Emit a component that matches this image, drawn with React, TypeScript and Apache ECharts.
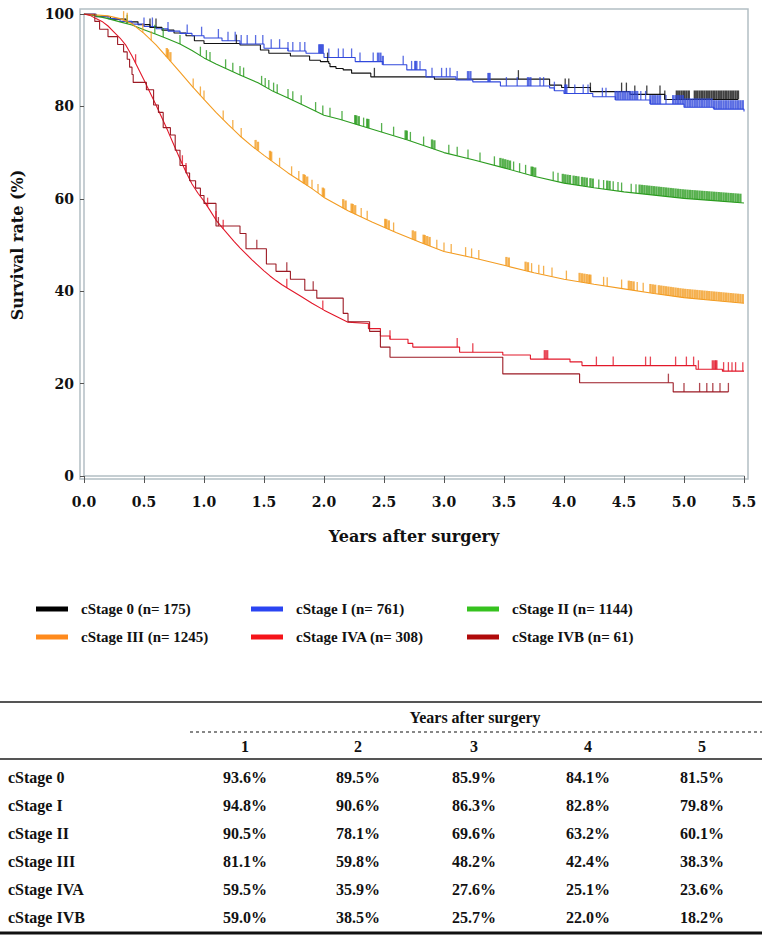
import React, { useEffect, useRef } from 'react';
import * as echarts from 'echarts';

// ---------- data ----------
const stageNames = [
  'cStage 0 (n= 175)',
  'cStage I (n= 761)',
  'cStage II (n= 1144)',
  'cStage III (n= 1245)',
  'cStage IVA (n= 308)',
  'cStage IVB (n= 61)',
];
const lineColors = ['#111111', '#3148dc', '#2c9c20', '#f39c22', '#e2182a', '#9c1a24'];
const legendColors = ['#000000', '#2a44f2', '#36c21f', '#ff8a1c', '#f5141a', '#b00a0a'];
// step rendering per stage (true = KM step, false = drawn points joined directly)
const stepMode = [true, true, false, false, false, true];

// survival curves: [years, survival %]
const curveStage0 = [
  [0, 100], [0.1, 99.4], [0.22, 98.9], [0.35, 98.3], [0.45, 97.7], [0.55, 97.1], [0.65, 96.5],
  [0.75, 95.9], [0.85, 95.3], [0.92, 94.2], [1.0, 93.6], [1.3, 93.3], [1.47, 92.2], [1.54, 91.5],
  [1.72, 90.9], [1.88, 90.0], [1.97, 89.7], [2.04, 89.3], [2.05, 88.6], [2.1, 88.2], [2.16, 87.9],
  [2.23, 87.2], [2.39, 86.4], [2.92, 85.9], [3.88, 84.6], [3.98, 84.1], [4.22, 83.2], [4.55, 82.6],
  [4.84, 81.5], [5.45, 81.5],
];
const curveStage1 = [
  [0, 100], [0.1, 99.5], [0.2, 99.0], [0.3, 98.4], [0.4, 97.8], [0.5, 97.3], [0.6, 96.8], [0.7, 96.3],
  [0.8, 95.8], [0.9, 95.3], [1.0, 94.8], [1.15, 94.2], [1.3, 93.5], [1.5, 92.6], [1.7, 92.0],
  [1.85, 91.5], [2.0, 90.6], [2.26, 89.7], [2.49, 89.0], [2.69, 87.9], [2.85, 86.4], [3.1, 85.7],
  [3.24, 85.3], [3.47, 84.4], [3.88, 84.0], [3.92, 83.4], [4.0, 82.8], [4.24, 82.1], [4.43, 81.4],
  [4.72, 80.5], [5.0, 79.8], [5.25, 79.4], [5.5, 78.9],
];
const curveStage2 = [
  [0, 100], [0.1, 99.6], [0.2, 99.0], [0.3, 98.3], [0.4, 97.6], [0.5, 96.6], [0.6, 95.6], [0.7, 94.6],
  [0.8, 93.5], [0.9, 92.1], [1.0, 90.5], [1.1, 89.2], [1.2, 88.0], [1.3, 86.8], [1.45, 85.1],
  [1.58, 83.2], [1.7, 81.8], [1.85, 80.0], [2.0, 78.1], [2.13, 77.2], [2.41, 75.0], [2.69, 72.8],
  [3.0, 70.0], [3.25, 68.4], [3.5, 66.7], [3.75, 64.9], [4.0, 63.4], [4.25, 62.4], [4.5, 61.5],
  [4.75, 60.8], [5.0, 60.1], [5.25, 59.6], [5.5, 59.1],
];
const curveStage3 = [
  [0, 100], [0.2, 99.6], [0.3, 99.0], [0.4, 97.9], [0.5, 95.8], [0.6, 93.3], [0.7, 90.4], [0.8, 87.4],
  [0.9, 84.4], [1.0, 81.5], [1.1, 78.7], [1.2, 76.1], [1.3, 73.6], [1.4, 71.4], [1.5, 69.4],
  [1.6, 67.5], [1.7, 65.6], [1.8, 63.9], [1.9, 62.2], [2.0, 60.3], [2.2, 57.4], [2.4, 55.0],
  [2.6, 52.7], [2.8, 50.6], [3.0, 48.6], [3.25, 47.2], [3.5, 45.6], [3.75, 44.0], [4.0, 42.6],
  [4.25, 41.5], [4.5, 40.5], [4.75, 39.5], [5.0, 38.6], [5.25, 38.0], [5.5, 37.4],
];
const curveStage4 = [
  [0, 100], [0.05, 99.7], [0.1, 99.0], [0.15, 98.4], [0.2, 97.4], [0.25, 96.1], [0.3, 94.8],
  [0.35, 93.2], [0.4, 90.9], [0.45, 88.3], [0.5, 85.7], [0.55, 83.0], [0.6, 80.3], [0.65, 77.5],
  [0.7, 74.6], [0.75, 71.6], [0.8, 68.6], [0.85, 65.8], [0.9, 63.2], [0.95, 61.2], [1.0, 59.5],
  [1.05, 57.5], [1.1, 55.4], [1.15, 53.8], [1.2, 52.3], [1.25, 50.8], [1.3, 49.4], [1.35, 48.1],
  [1.4, 46.8], [1.45, 45.6], [1.5, 44.4], [1.55, 43.3], [1.6, 42.3], [1.65, 41.4], [1.7, 40.6],
  [1.8, 39.0], [1.9, 37.4], [2.0, 35.9], [2.1, 34.6], [2.2, 33.3], [2.37, 33.0], [2.37, 31.9],
  [2.47, 31.9], [2.47, 30.3], [2.55, 30.3], [2.55, 29.6], [2.7, 29.6], [2.7, 28.7], [2.74, 28.7],
  [2.74, 27.9], [3.13, 27.9], [3.13, 26.8], [3.49, 26.8], [3.49, 26.2], [3.72, 26.2], [3.72, 25.3],
  [4.05, 25.3], [4.05, 24.7], [4.15, 24.7], [4.15, 23.9], [5.1, 23.9], [5.1, 23.1], [5.32, 23.1],
  [5.32, 22.7], [5.5, 22.7],
];
const curveStage5 = [
  [0, 100], [0.09, 98.4], [0.13, 96.7], [0.2, 95.1], [0.28, 93.4], [0.33, 91.8], [0.36, 90.2],
  [0.38, 88.5], [0.4, 86.9], [0.41, 85.2], [0.52, 83.6], [0.58, 80.3], [0.62, 78.7], [0.66, 75.4],
  [0.72, 73.8], [0.76, 70.5], [0.8, 67.2], [0.85, 65.6], [0.88, 63.9], [0.93, 62.3], [0.97, 60.7],
  [1.0, 59.0], [1.1, 54.1], [1.3, 52.5], [1.35, 49.2], [1.52, 45.9], [1.6, 44.3], [1.72, 42.6],
  [1.84, 40.2], [1.94, 38.5], [2.16, 35.2], [2.2, 33.4], [2.38, 31.3], [2.47, 27.9], [2.55, 25.7],
  [3.49, 22.1], [4.13, 20.2], [4.91, 18.2], [5.37, 18.2],
];

// censoring times (years)
const censorStage0 = [
  0.55, 0.6, 1.27, 2.03, 2.42, 3.62, 4.01, 4.04, 4.22, 4.48, 4.52, 4.59, 4.69, 4.8, 4.84, 4.94, 4.96,
  4.98, 5.0, 5.02, 5.04, 5.09, 5.11, 5.13, 5.15, 5.17, 5.19, 5.21, 5.23, 5.25, 5.27, 5.29, 5.31,
  5.33, 5.35, 5.37, 5.39, 5.41, 5.43, 5.45,
];
const censorStage1 = [
  0.5, 0.57, 0.7, 0.86, 0.98, 1.12, 1.2, 1.26, 1.31, 1.36, 1.43, 1.49, 1.56, 1.63, 1.7, 1.74, 1.8,
  1.84, 1.96, 1.97, 1.98, 1.99, 2.04, 2.12, 2.16, 2.23, 2.3, 2.41, 2.45, 2.47, 2.49, 2.66, 2.73,
  2.76, 2.77, 2.8, 2.9, 2.98, 3.02, 3.05, 3.11, 3.2, 3.22, 3.37, 3.38, 3.52, 3.61, 3.7, 3.72, 3.8,
  3.83, 3.92, 4.01, 4.02, 4.09, 4.16, 4.2, 4.32, 4.35, 4.43, 4.45, 4.47, 4.49, 4.51, 4.53, 4.55,
  4.57, 4.59, 4.61, 4.64, 4.68, 4.72, 4.74, 4.76, 4.78, 4.8, 4.85, 4.91, 4.93, 4.95, 4.97, 4.99,
  5.01, 5.03, 5.05, 5.07, 5.09, 5.11, 5.13, 5.15, 5.17, 5.19, 5.21, 5.23, 5.25, 5.27, 5.29, 5.31,
  5.33, 5.35, 5.37, 5.39, 5.41, 5.43, 5.45, 5.47, 5.49,
];
const censorStage2 = [
  0.36, 0.59, 0.66, 0.8, 0.97, 1.02, 1.05, 1.18, 1.24, 1.3, 1.33, 1.48, 1.51, 1.54, 1.58, 1.61, 1.7,
  1.74, 1.81, 1.93, 1.99, 2.05, 2.15, 2.26, 2.27, 2.29, 2.33, 2.36, 2.37, 2.48, 2.58, 2.68, 2.69,
  2.72, 2.83, 2.9, 2.92, 3.04, 3.11, 3.2, 3.3, 3.42, 3.47, 3.49, 3.51, 3.53, 3.55, 3.58, 3.63, 3.68,
  3.73, 3.74, 3.76, 3.91, 3.95, 3.99, 4.01, 4.03, 4.05, 4.08, 4.1, 4.12, 4.15, 4.17, 4.19, 4.22,
  4.24, 4.29, 4.33, 4.36, 4.38, 4.41, 4.45, 4.48, 4.56, 4.6, 4.63, 4.65, 4.67, 4.69, 4.71, 4.73,
  4.75, 4.77, 4.79, 4.81, 4.83, 4.85, 4.87, 4.89, 4.91, 4.93, 4.95, 4.97, 4.99, 5.01, 5.03, 5.05,
  5.07, 5.09, 5.11, 5.13, 5.15, 5.17, 5.19, 5.21, 5.23, 5.25, 5.27, 5.29, 5.31, 5.33, 5.35, 5.37,
  5.39, 5.41, 5.43, 5.45, 5.47,
];
const censorStage3 = [
  0.33, 0.36, 0.49, 0.56, 0.69, 0.7, 0.72, 0.91, 0.97, 1.0, 1.16, 1.24, 1.31, 1.43, 1.45, 1.55, 1.56,
  1.63, 1.73, 1.79, 1.83, 1.84, 1.86, 1.9, 1.95, 1.99, 2.0, 2.16, 2.18, 2.23, 2.24, 2.26, 2.31,
  2.36, 2.51, 2.52, 2.54, 2.58, 2.74, 2.76, 2.83, 2.84, 2.86, 2.88, 2.94, 3.0, 3.06, 3.18, 3.23,
  3.29, 3.52, 3.54, 3.68, 3.7, 3.73, 3.79, 3.83, 3.9, 4.02, 4.13, 4.15, 4.17, 4.19, 4.21, 4.22,
  4.33, 4.36, 4.48, 4.54, 4.56, 4.58, 4.61, 4.66, 4.72, 4.74, 4.76, 4.79, 4.81, 4.83, 4.85, 4.87,
  4.89, 4.91, 4.93, 4.95, 4.97, 4.99, 5.01, 5.03, 5.05, 5.07, 5.09, 5.11, 5.13, 5.15, 5.17, 5.19,
  5.21, 5.23, 5.25, 5.27, 5.29, 5.31, 5.33, 5.35, 5.37, 5.39, 5.41, 5.43, 5.45, 5.47, 5.49,
];
const censorStage4 = [
  0.43, 0.82, 0.85, 1.03, 1.1, 1.16, 1.69, 1.99, 2.55, 3.11, 3.24, 3.84, 3.86, 4.27, 4.41, 4.68,
  4.72, 4.93, 5.02, 5.08, 5.12, 5.24, 5.26, 5.27, 5.33, 5.37, 5.4, 5.43, 5.49,
];
const censorStage5 = [1.12, 1.44, 1.69, 1.91, 4.87, 5.0, 5.13, 5.19, 5.24, 5.3, 5.37];

const curves = [curveStage0, curveStage1, curveStage2, curveStage3, curveStage4, curveStage5];
const censors = [censorStage0, censorStage1, censorStage2, censorStage3, censorStage4, censorStage5];

// table
const tableTitle = 'Years after surgery';
const tableYears = ['1', '2', '3', '4', '5'];
const tableRowLabels = ['cStage 0', 'cStage I', 'cStage II', 'cStage III', 'cStage IVA', 'cStage IVB'];
const rateStage0 = [93.6, 89.5, 85.9, 84.1, 81.5];
const rateStage1 = [94.8, 90.6, 86.3, 82.8, 79.8];
const rateStage2 = [90.5, 78.1, 69.6, 63.2, 60.1];
const rateStage3 = [81.1, 59.8, 48.2, 42.4, 38.3];
const rateStage4 = [59.5, 35.9, 27.6, 25.1, 23.6];
const rateStage5 = [59.0, 38.5, 25.7, 22.0, 18.2];
const tableRates = [rateStage0, rateStage1, rateStage2, rateStage3, rateStage4, rateStage5];

// ---------- helpers ----------
function valueAt(curve: number[][], t: number, step: boolean): number {
  let idx = 0;
  for (let i = 0; i < curve.length; i++) {
    if (curve[i][0] <= t) idx = i;
    else break;
  }
  if (step || idx >= curve.length - 1) return curve[idx][1];
  const [t0, v0] = curve[idx];
  const [t1, v1] = curve[idx + 1];
  if (t1 === t0) return v1;
  return v0 + ((v1 - v0) * (t - t0)) / (t1 - t0);
}

const AXIS_FONT = '"DejaVu Serif", serif';
const TABLE_FONT = '"Liberation Serif", "Times New Roman", Times, serif';

export default function App() {
  const ref = useRef<HTMLDivElement>(null);

  useEffect(() => {
    if (!ref.current) return;
    const chart = echarts.init(ref.current, undefined, { renderer: 'svg' });

    const series: any[] = [];
    curves.forEach((c, i) => {
      series.push({
        name: stageNames[i],
        type: 'line',
        data: c,
        step: stepMode[i] ? 'end' : false,
        showSymbol: false,
        symbol: 'none',
        color: lineColors[i],
        lineStyle: { color: lineColors[i], width: 1.1 },
        z: 3,
      });
    });
    censors.forEach((cs, i) => {
      series.push({
        name: stageNames[i] + ' censored',
        type: 'scatter',
        data: cs.map((t, k) => {
          const near =
            (k > 0 && t - cs[k - 1] <= 0.021) || (k < cs.length - 1 && cs[k + 1] - t <= 0.021);
          return {
            value: [t, valueAt(curves[i], t, stepMode[i])],
            symbolSize: [near ? 2.3 : 1.3, 9],
          };
        }),
        symbol: 'rect',
        symbolOffset: [0, -4.5],
        itemStyle: { color: lineColors[i] },
        silent: true,
        z: 4,
      });
    });

    const legendText = {
      fontFamily: TABLE_FONT,
      fontWeight: 'bold',
      fontSize: 15,
      color: '#111',
      lineHeight: 16,
      padding: [0, 0, 0, 8],
    };
    const legendCols = [
      [0, 3],
      [1, 4],
      [2, 5],
    ];
    const legendLeft = [31, 246, 462];
    const legends = legendCols.map((col, k) => ({
      orient: 'vertical',
      left: legendLeft[k],
      top: 596,
      itemWidth: 32,
      itemHeight: 5,
      itemGap: 12,
      icon: 'rect',
      selectedMode: false,
      textStyle: legendText,
      data: col.map((i) => ({ name: stageNames[i], itemStyle: { color: legendColors[i], borderWidth: 0 } })),
    }));

    // table graphics
    const colX = [245, 358, 474, 588, 702];
    const rowY = [777, 805, 833, 861, 889, 917];
    const tFont = { fontFamily: TABLE_FONT, fontWeight: 'bold', fontSize: 16, fill: '#111' };
    const graphics: any[] = [
      {
        type: 'rect',
        shape: { x: 80, y: 9, width: 668, height: 470 },
        style: { fill: 'none', stroke: '#b3bec4', lineWidth: 1.5 },
        silent: true,
        z: 0,
      },
      { type: 'line', shape: { x1: 0, y1: 702, x2: 762, y2: 702 }, style: { stroke: '#555', lineWidth: 2 } },
      {
        type: 'line',
        shape: { x1: 190, y1: 732, x2: 762, y2: 732 },
        style: { stroke: '#111', lineWidth: 1.2, lineDash: [3, 3] },
      },
      { type: 'line', shape: { x1: 0, y1: 759, x2: 762, y2: 759 }, style: { stroke: '#555', lineWidth: 2 } },
      { type: 'line', shape: { x1: 0, y1: 933, x2: 762, y2: 933 }, style: { stroke: '#111', lineWidth: 3 } },
      {
        type: 'text',
        x: 475,
        y: 717,
        style: { ...tFont, text: tableTitle, align: 'center', verticalAlign: 'middle' },
      },
    ];
    tableYears.forEach((yr, j) => {
      graphics.push({
        type: 'text',
        x: colX[j],
        y: 746,
        style: { ...tFont, text: yr, align: 'center', verticalAlign: 'middle' },
      });
    });
    tableRowLabels.forEach((lab, r) => {
      graphics.push({
        type: 'text',
        x: 8,
        y: rowY[r],
        style: { ...tFont, text: lab, align: 'left', verticalAlign: 'middle' },
      });
      tableRates[r].forEach((v, j) => {
        graphics.push({
          type: 'text',
          x: colX[j],
          y: rowY[r],
          style: { ...tFont, text: v.toFixed(1) + '%', align: 'center', verticalAlign: 'middle' },
        });
      });
    });

    const axisLabelStyle = {
      fontFamily: AXIS_FONT,
      fontWeight: 'bold',
      fontSize: 14,
      color: '#111',
    };
    const axisNameStyle = {
      fontFamily: AXIS_FONT,
      fontWeight: 'bold',
      fontSize: 16,
      color: '#111',
    };

    const option: any = {
      animation: false,
      backgroundColor: '#ffffff',
      grid: { left: 84, right: 21, top: 14, bottom: 459 },
      xAxis: {
        type: 'value',
        min: 0,
        max: 5.5,
        interval: 0.5,
        offset: 3,
        name: 'Years after surgery',
        nameLocation: 'middle',
        nameGap: 49,
        nameTextStyle: axisNameStyle,
        axisLine: { show: true, lineStyle: { color: '#b3bec4', width: 1.5 } },
        axisTick: { show: true, length: 7, lineStyle: { color: '#555' } },
        axisLabel: { ...axisLabelStyle, margin: 16, formatter: (v: number) => v.toFixed(1) },
        splitLine: { show: false },
      },
      yAxis: {
        type: 'value',
        min: 0,
        max: 100,
        interval: 20,
        offset: 4,
        name: 'Survival rate (%)',
        nameLocation: 'middle',
        nameGap: 55,
        nameTextStyle: axisNameStyle,
        axisLine: { show: true, lineStyle: { color: '#b3bec4', width: 1.5 } },
        axisTick: { show: true, length: 4, lineStyle: { color: '#555' } },
        axisLabel: { ...axisLabelStyle, margin: 6 },
        splitLine: { show: false },
      },
      legend: legends,
      graphic: graphics,
      series,
    };

    chart.setOption(option);
    return () => chart.dispose();
  }, []);

  return (
    <div
      ref={ref}
      style={{ position: 'fixed', left: 0, top: 0, width: 765, height: 935, background: '#fff' }}
    />
  );
}
